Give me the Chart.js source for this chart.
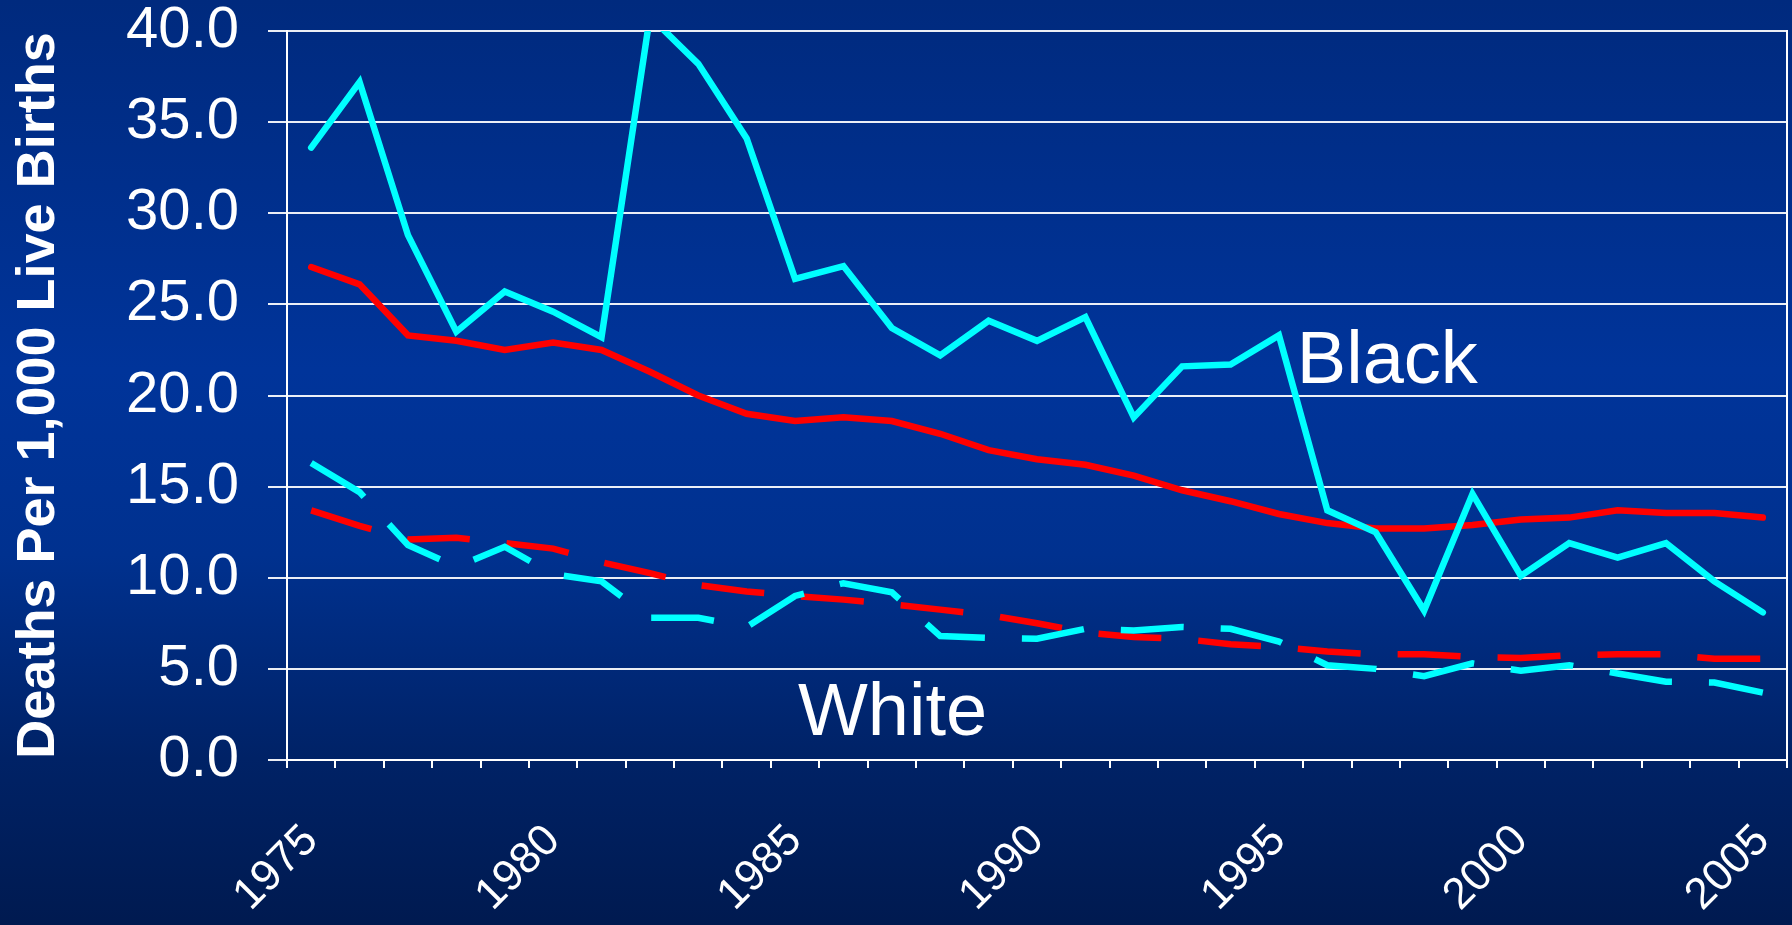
<!DOCTYPE html>
<html>
<head>
<meta charset="utf-8">
<title>Deaths Per 1,000 Live Births</title>
<script src="https://cdn.jsdelivr.net/npm/chart.js@4.4.1/dist/chart.umd.min.js"></script>
<style>
  html, body { margin: 0; padding: 0; }
  body {
    width: 1792px;
    height: 925px;
    overflow: hidden;
    background: linear-gradient(to bottom, #002a7e 0%, #00349a 40%, #00318f 60%, #002266 82%, #001a50 100%);
  }
  canvas { display: block; }
</style>
</head>
<body>
<canvas id="rateChart" width="1792" height="925"></canvas>
<script>
// years on the x axis
const years = [1975, 1976, 1977, 1978, 1979, 1980, 1981, 1982, 1983, 1984,
               1985, 1986, 1987, 1988, 1989, 1990, 1991, 1992, 1993, 1994,
               1995, 1996, 1997, 1998, 1999, 2000, 2001, 2002, 2003, 2004, 2005];

// Black rates: cyan solid line and red solid line
const blackLocal = [33.6, 37.2, 28.8, 23.5, 25.7, 24.6, 23.2, 40.8, 38.2, 34.1,
                    26.4, 27.1, 23.7, 22.2, 24.1, 23.0, 24.3, 18.8, 21.6, 21.7,
                    23.3, 13.7, 12.5, 8.2, 14.6, 10.1, 11.9, 11.1, 11.9, 9.8, 8.1];
const blackUS = [27.05, 26.1, 23.3, 23.0, 22.5, 22.9, 22.5, 21.3, 20.0, 19.0,
                 18.6, 18.8, 18.6, 17.9, 17.0, 16.5, 16.2, 15.6, 14.8, 14.2,
                 13.5, 13.0, 12.7, 12.7, 12.9, 13.2, 13.3, 13.7, 13.55, 13.55, 13.3];

// White rates: cyan dashed line and red dashed line
const whiteLocal = [16.3, 14.7, 11.8, 10.6, 11.7, 10.2, 9.8, 7.8, 7.8, 7.3,
                    9.0, 9.7, 9.2, 6.8, 6.7, 6.65, 7.2, 7.1, 7.3, 7.2,
                    6.5, 5.2, 5.0, 4.6, 5.3, 4.9, 5.2, 4.75, 4.3, 4.25, 3.7];
const whiteUS = [13.7, 12.85, 12.1, 12.2, 11.9, 11.6, 10.85, 10.25, 9.6, 9.25,
                 9.0, 8.8, 8.55, 8.25, 7.95, 7.5, 7.0, 6.75, 6.65, 6.35,
                 6.2, 5.95, 5.8, 5.8, 5.65, 5.6, 5.75, 5.8, 5.8, 5.55, 5.55];

// y axis ticks
const yTicks = [0, 5, 10, 15, 20, 25, 30, 35, 40];

const CYAN = '#00ffff';
const RED = '#ff0000';
const WHITE = '#ffffff';
const FONT = '"Liberation Sans", Arial, sans-serif';

// "Black" / "White" text next to the lines
const seriesLabels = {
    id: 'seriesLabels',
    afterDatasetsDraw(chart) {
        const { ctx, scales: { x, y } } = chart;
        ctx.save();
        ctx.fillStyle = WHITE;
        ctx.font = '74px ' + FONT;
        ctx.textAlign = 'left';
        ctx.textBaseline = 'alphabetic';
        ctx.fillText('Black', x.getPixelForValue(20.37), y.getPixelForValue(20.7));
        ctx.fillText('White', x.getPixelForValue(10.06), y.getPixelForValue(1.37));
        ctx.restore();
    }
};

const ctx = document.getElementById('rateChart').getContext('2d');

new Chart(ctx, {
    type: 'line',
    data: {
        labels: years,
        datasets: [
            { label: 'Black (area)', data: blackLocal, borderColor: CYAN, borderWidth: 6.5, borderCapStyle: 'round' },
            { label: 'White (area)', data: whiteLocal, borderColor: CYAN, borderWidth: 6.5, borderDash: [63, 37] },
            { label: 'Black (US)', data: blackUS, borderColor: RED, borderWidth: 6.5, borderCapStyle: 'round' },
            { label: 'White (US)', data: whiteUS, borderColor: RED, borderWidth: 6.5, borderDash: [63, 37] }
        ]
    },
    options: {
        responsive: false,
        animation: false,
        devicePixelRatio: 1,
        layout: { padding: { left: 0, top: 31, right: 5, bottom: 0 } },
        elements: {
            point: { radius: 0, hoverRadius: 0 },
            line: { tension: 0, fill: false }
        },
        plugins: {
            legend: { display: false },
            tooltip: { enabled: false }
        },
        scales: {
            x: {
                type: 'category',
                offset: true,
                grid: {
                    offset: true,
                    drawOnChartArea: false,
                    drawTicks: true,
                    tickLength: 8,
                    color: WHITE,
                    lineWidth: 2
                },
                border: { display: true, color: WHITE, width: 2 },
                ticks: {
                    autoSkip: false,
                    minRotation: 45,
                    maxRotation: 45,
                    padding: 47,
                    color: WHITE,
                    font: { family: FONT, size: 44 },
                    callback: function(value, index) {
                        return years[index] % 5 === 0 ? String(years[index]) : '';
                    }
                },
                afterFit: function(scale) {
                    scale.height = 165;
                    scale.paddingLeft = 0;
                    scale.paddingRight = 0;
                }
            },
            y: {
                min: 0,
                max: 40,
                afterBuildTicks: function(scale) {
                    scale.ticks = yTicks.map(v => ({ value: v }));
                },
                grid: {
                    color: 'rgba(255,255,255,0.92)',
                    lineWidth: 2,
                    tickLength: 19
                },
                border: { display: true, color: WHITE, width: 2 },
                ticks: {
                    padding: 29,
                    color: WHITE,
                    font: { family: FONT, size: 58, lineHeight: 1.1 },
                    callback: v => v.toFixed(1)
                },
                title: {
                    display: true,
                    text: 'Deaths Per 1,000 Live Births',
                    color: WHITE,
                    font: { family: FONT, size: 54, weight: 'bold', lineHeight: 1.2 },
                    padding: { top: 7, bottom: 0 }
                },
                afterFit: function(scale) {
                    scale.width = 287;
                    scale.paddingTop = 0;
                    scale.paddingBottom = 0;
                }
            },
            // right edge of the plot frame
            yRight: {
                position: 'right',
                min: 0,
                max: 40,
                grid: { drawOnChartArea: false, drawTicks: false },
                border: { display: true, color: WHITE, width: 2 },
                ticks: { display: false },
                afterFit: function(scale) {
                    scale.width = 0;
                    scale.paddingTop = 0;
                    scale.paddingBottom = 0;
                }
            }
        }
    },
    plugins: [seriesLabels]
});
</script>
</body>
</html>
